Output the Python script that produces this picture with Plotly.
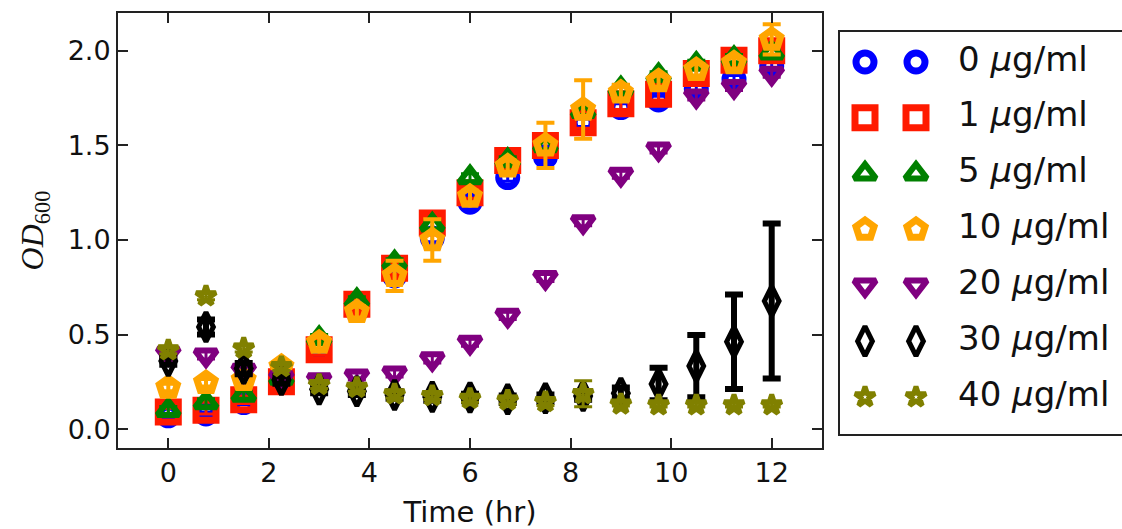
import plotly.graph_objects as go

# Sampling times (hr)
time_hr = [0, 0.75, 1.5, 2.25, 3, 3.75, 4.5, 5.25, 6, 6.75, 7.5, 8.25, 9, 9.75, 10.5, 11.25, 12]

# Mean OD600 for each antibiotic concentration
od_0 = [0.07, 0.08, 0.14, 0.27, 0.44, 0.63, 0.81, 1.01, 1.20, 1.33, 1.44, 1.62, 1.70, 1.74, 1.80, 1.85, 1.92]
od_1 = [0.09, 0.10, 0.155, 0.25, 0.42, 0.66, 0.85, 1.09, 1.25, 1.42, 1.50, 1.62, 1.72, 1.77, 1.88, 1.95, 2.00]
od_5 = [0.10, 0.14, 0.18, 0.27, 0.48, 0.68, 0.88, 1.08, 1.33, 1.42, 1.50, 1.68, 1.80, 1.87, 1.93, 1.96, 1.99]
od_10 = [0.22, 0.245, 0.26, 0.33, 0.457, 0.62, 0.81, 1.00, 1.23, 1.39, 1.50, 1.69, 1.78, 1.84, 1.90, 1.935, 2.06]
od_20 = [0.40, 0.39, 0.31, 0.27, 0.26, 0.28, 0.295, 0.37, 0.458, 0.60, 0.80, 1.095, 1.346, 1.48, 1.76, 1.81, 1.88]
od_30 = [0.36, 0.54, 0.32, 0.26, 0.21, 0.20, 0.18, 0.17, 0.167, 0.158, 0.163, 0.175, 0.19, 0.238, 0.333, 0.462, 0.677]
od_40 = [0.418, 0.704, 0.428, 0.33, 0.235, 0.22, 0.185, 0.176, 0.162, 0.153, 0.145, 0.187, 0.132, 0.127, 0.127, 0.127, 0.127]

# Standard deviations
err_0 = [0.01, 0.01, 0.01, 0.02, 0.02, 0.02, 0.02, 0.02, 0.02, 0.02, 0.02, 0.02, 0.02, 0.02, 0.02, 0.02, 0.02]
err_1 = [0.02, 0.02, 0.02, 0.02, 0.03, 0.03, 0.03, 0.03, 0.03, 0.03, 0.03, 0.03, 0.03, 0.03, 0.03, 0.03, 0.03]
err_5 = [0.02, 0.02, 0.02, 0.02, 0.02, 0.02, 0.02, 0.02, 0.02, 0.02, 0.02, 0.02, 0.02, 0.02, 0.02, 0.02, 0.02]
err_10 = [0.02, 0.02, 0.02, 0.02, 0.03, 0.03, 0.08, 0.11, 0.03, 0.03, 0.12, 0.155, 0.04, 0.03, 0.03, 0.03, 0.08]
err_20 = [0.02, 0.02, 0.02, 0.02, 0.02, 0.02, 0.02, 0.02, 0.02, 0.02, 0.02, 0.02, 0.02, 0.02, 0.02, 0.02, 0.02]
err_30 = [0.02, 0.04, 0.03, 0.02, 0.02, 0.02, 0.02, 0.02, 0.02, 0.02, 0.02, 0.02, 0.03, 0.086, 0.165, 0.25, 0.41]
err_40 = [0.02, 0.02, 0.02, 0.02, 0.02, 0.02, 0.02, 0.02, 0.02, 0.02, 0.02, 0.069, 0.01, 0.01, 0.01, 0.01, 0.01]

concentrations = ["0", "1", "5", "10", "20", "30", "40"]
means = [od_0, od_1, od_5, od_10, od_20, od_30, od_40]
errors = [err_0, err_1, err_5, err_10, err_20, err_30, err_40]

# Marker styling per concentration: colour, symbol, size, stroke width, error-bar thickness
styles = [
    ("#0000ff", "circle-open", 18, 7, 3),
    ("#ff1a00", "square-open", 20, 7, 3),
    ("#008000", "triangle-up-open", 19, 6, 3),
    ("#ffa500", "pentagon-open", 19, 7, 4),
    ("#800080", "triangle-down-open", 19, 6, 3),
    ("#000000", "diamond-tall-open", 21, 5, 6),
    ("#808000", "star-open", 15, 5, 3),
]

W, H = 1122, 529
ML, MB, MT = 118, 81, 13
plot_w = 704
paper_w = W - ML
paper_h = H - MB - MT

fig = go.Figure()

for conc, y, e, (color, symbol, size, lw, eth) in zip(concentrations, means, errors, styles):
    fig.add_trace(go.Scatter(
        x=time_hr, y=y, mode="markers",
        marker=dict(symbol=symbol, size=size, color=color, line=dict(width=lw, color=color)),
        error_y=dict(type="data", array=e, visible=True, color=color, thickness=eth, width=9),
        showlegend=False, cliponaxis=False,
        xaxis="x", yaxis="y",
    ))

# Hand-built legend: two sample markers per entry followed by the label
legend_rows = list(range(len(concentrations)))
for row, (color, symbol, size, lw, eth) in zip(legend_rows, styles):
    fig.add_trace(go.Scatter(
        x=[26, 77], y=[row, row], mode="markers",
        marker=dict(symbol=symbol, size=size, color=color, line=dict(width=lw, color=color)),
        showlegend=False, xaxis="x2", yaxis="y2", hoverinfo="skip",
    ))
fig.add_trace(go.Scatter(
    x=[119] * len(concentrations), y=legend_rows, mode="text",
    text=[f"{c} <i>μ</i>g/ml" for c in concentrations],
    textposition="middle right",
    textfont=dict(family="DejaVu Sans", size=34, color="#111111"),
    showlegend=False, xaxis="x2", yaxis="y2", hoverinfo="skip",
))

axis_common = dict(
    showline=True, linecolor="#222222", linewidth=2, mirror="ticks",
    ticks="inside", ticklen=10, tickwidth=2, tickcolor="#222222",
    showgrid=False, zeroline=False,
    tickfont=dict(family="DejaVu Sans", size=27, color="#111111"),
)

fig.update_layout(
    width=W, height=H,
    margin=dict(l=ML, r=0, t=MT, b=MB),
    paper_bgcolor="white", plot_bgcolor="white",
    xaxis=dict(
        domain=[0, plot_w / paper_w], range=[-1, 13],
        tickvals=[0, 2, 4, 6, 8, 10, 12],
        title=dict(text="Time (hr)", font=dict(family="DejaVu Sans", size=29, color="#111111"), standoff=14),
        **axis_common,
    ),
    yaxis=dict(
        range=[-0.1, 2.2], tickvals=[0, 0.5, 1.0, 1.5, 2.0], tickformat=".1f",
        title=dict(text="<i>OD</i><sub>600</sub>", font=dict(family="Liberation Serif", size=32, color="#111111"), standoff=14),
        **axis_common,
    ),
    xaxis2=dict(domain=[(839 - ML) / paper_w, 1], range=[0, 283], visible=False, fixedrange=True, anchor="y2"),
    yaxis2=dict(domain=[(H - MB - 435) / paper_h, (H - MB - 31) / paper_h], range=[6.68, -0.555],
                visible=False, fixedrange=True, anchor="x2"),
    shapes=[dict(type="rect", xref="x2 domain", yref="y2 domain", x0=0, x1=1.05, y0=0, y1=1,
                 line=dict(color="#222222", width=2), fillcolor="rgba(0,0,0,0)", layer="above")],
)

fig.write_html("out.html")
